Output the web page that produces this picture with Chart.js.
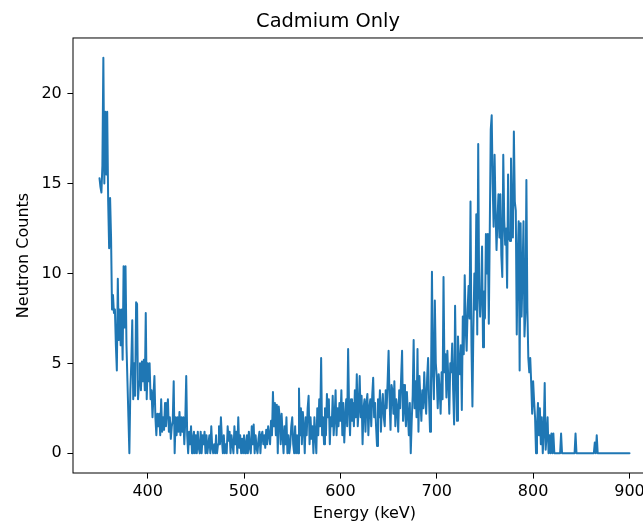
<!DOCTYPE html>
<html>
<head>
<meta charset="utf-8">
<title>Cadmium Only</title>
<script src="https://cdn.jsdelivr.net/npm/chart.js@4.4.0/dist/chart.umd.min.js"></script>
<style>
html, body { margin: 0; padding: 0; background: #fff; overflow: hidden; }
#wrap { width: 643px; height: 525px; overflow: hidden; }
</style>
</head>
<body>
<div id="wrap"><canvas id="chart" width="700" height="525"></canvas></div>
<script>
// データここから
const startEnergy = 350; // keV, 1 keV step
const counts = [
    15.3, 14.8, 14.5, 16, 22, 15, 19, 15.5, 19, 14, // 350
    11.4, 14.2, 12, 8, 8.8, 7.8, 8, 6, 4.6, 9.7, // 360
    6.3, 8, 6, 8, 5.2, 10.4, 7, 10.4, 6, 4, // 370
    2, 0, 3.5, 5, 7.4, 3, 5, 3.2, 8.4, 8.3, // 380
    3, 4, 5, 3.5, 5.1, 4, 5.2, 3.5, 7.8, 3, // 390
    5, 4, 5, 3, 3.5, 2, 3.2, 4.3, 2, 1, // 400
    2.2, 1.5, 2.2, 1, 3, 1.2, 2, 1.3, 2.8, 1.5, // 410
    2.3, 3, 1.2, 2, 0.8, 1.5, 1.8, 4, 0, 2, // 420
    1, 2, 1.2, 2.3, 1, 2, 1.2, 2, 0.5, 1.8, // 430
    4.3, 1, 0, 1.2, 0.5, 1.5, 0, 0.8, 1.2, 0, // 440
    1, 0, 1.2, 0.3, 0, 1.2, 0, 1, 0.5, 1.2, // 450
    0, 1, 0, 0.5, 1, 0, 1.5, 0.3, 0, 0.5, // 460
    0, 1, 0, 0.5, 1.5, 0.5, 2, 0.8, 0, 1, // 470
    0, 0.5, 0, 1.5, 0.7, 1.2, 0, 1, 0.5, 0, // 480
    1.5, 0.5, 1.2, 0, 2, 0.3, 1, 0, 0.8, 0, // 490
    1, 0, 0.5, 1, 0, 1.2, 0.3, 0, 1.5, 0.5, // 500
    1.6, 0, 1, 0.3, 0, 0.8, 1.2, 0, 1, 1.2, // 510
    0.5, 1, 0.3, 1.3, 0.5, 1.5, 1, 0.5, 1.8, 1, // 520
    3.4, 1.5, 2.8, 1, 2.7, 0, 2.6, 2, 0.5, 2.2, // 530
    1, 0, 1.5, 0.5, 2, 0, 1, 0, 0.5, 1.5, // 540
    2, 0.5, 0, 1.5, 0, 1, 0, 3.6, 1, 2.5, // 550
    0.5, 2.3, 1.5, 0, 2, 1, 2.5, 3.2, 0.5, 2, // 560
    0.8, 1.5, 0, 2, 1, 0, 2.5, 1, 3, 1.5, // 570
    5.3, 1, 2, 0.5, 2.5, 1, 3.3, 2, 3, 0.5, // 580
    2, 1.5, 3.2, 1, 2, 3.5, 1, 2.5, 1.5, 2.8, // 590
    1.8, 3.5, 1, 2.8, 0.6, 2, 3, 1.5, 5.8, 2.5, // 600
    1, 3, 1.8, 2.8, 1.5, 3.5, 2, 4.4, 1.5, 2.5, // 610
    4.3, 2, 3.2, 0.5, 2.5, 3, 1.2, 2.8, 3.3, 1, // 620
    2.5, 3, 1.5, 3.2, 4.2, 2, 2.8, 1.5, 0.4, 3, // 630
    2, 3.5, 1.2, 2.5, 3.3, 2, 1.5, 3.5, 2.5, 4, // 640
    5.7, 3, 1.3, 3.8, 3.5, 2.2, 4, 1.5, 3, 2.5, // 650
    1.2, 3.5, 2.5, 4.2, 5.7, 1.8, 3.8, 2.5, 1.5, 3.4, // 660
    2.2, 1, 2.8, 0, 1.8, 3.2, 6.3, 2.5, 4, 2, // 670
    5.8, 1.2, 4.3, 3, 1.8, 3.5, 2.5, 4.5, 3, 2.2, // 680
    4.2, 5.3, 3, 1.2, 3.8, 10.1, 4.5, 3, 8.5, 5, // 690
    4.2, 2.5, 4.4, 3.5, 2.2, 4.5, 3, 9.8, 4.5, 5.5, // 700
    3.1, 5.7, 4, 2.2, 5, 4.5, 6.1, 3.5, 1.6, 8.2, // 710
    4.5, 1.8, 6.5, 5, 4.4, 6, 2.4, 7.6, 5.5, 9.9, // 720
    7, 5.7, 8, 9.3, 7.5, 14, 6, 2.6, 7, 10, // 730
    8, 13.3, 6.6, 17.2, 9, 7.6, 8.9, 11.5, 5.9, 9, // 740
    7.5, 12.2, 10, 12.2, 7.2, 12.4, 18, 18.8, 15, 12.6, // 750
    16.6, 13.5, 11.3, 13, 14.4, 12, 14.4, 11, 9.8, 16.6, // 760
    13, 11.6, 12.5, 9.2, 15.5, 12, 11.8, 16.4, 13, 12, // 770
    17.9, 14, 13.5, 6.6, 11, 12.9, 4.6, 12.8, 7.6, 10, // 780
    12.9, 6.5, 7.8, 15.2, 8.1, 5.3, 4.5, 5.3, 3.9, 2.2, // 790
    4, 2.9, 2, 0, 1.5, 2.8, 1, 2.5, 0.5, 2, // 800
    0, 1.2, 3.9, 0.2, 1, 2, 0, 1, 0, 1.1, // 810
    0, 1.1, 0, 0, 0, 0, 0, 0, 0, 1.1, // 820
    0, 0, 0, 0, 0, 0, 0, 0, 0, 0, // 830
    0, 0, 0, 0, 1.1, 0, 0, 0, 0, 0, // 840
    0, 0, 0, 0, 0, 0, 0, 0, 0, 0, // 850
    0, 0, 0, 0, 0.6, 0, 1, 0, 0, 0, // 860
    0, 0, 0, 0, 0, 0, 0, 0, 0, 0, // 870
    0, 0, 0, 0, 0, 0, 0, 0, 0, 0, // 880
    0, 0, 0, 0, 0, 0, 0, 0, 0, 0, // 890
    0 // 900
];
const xTicks = [400, 500, 600, 700, 800, 900];
const yTicks = [0, 5, 10, 15, 20];
// データここまで

const energies = counts.map((c, i) => startEnergy + i);
const points = energies.map((e, i) => ({ x: e, y: counts[i] }));

// 枠線(matplotlibのspine)
const framePlugin = {
    id: "frame",
    afterDatasetsDraw(chart) {
        const { ctx, chartArea } = chart;
        ctx.save();
        ctx.strokeStyle = "#000";
        ctx.lineWidth = 1;
        ctx.strokeRect(chartArea.left, chartArea.top,
            chartArea.right - chartArea.left, chartArea.bottom - chartArea.top);
        ctx.restore();
    },
};

const font = { family: "'DejaVu Sans', sans-serif", size: 16 };

new Chart(document.getElementById("chart"), {
    type: "line",
    data: {
        datasets: [
            {
                data: points,
                borderColor: "#1f77b4",
                borderWidth: 2,
                borderJoinStyle: "round",
                borderCapStyle: "round",
                pointRadius: 0,
                tension: 0,
                fill: false,
            },
        ],
    },
    options: {
        responsive: false,
        animation: false,
        layout: { padding: { left: 0, right: 44, top: 0, bottom: 0 } },
        plugins: {
            legend: { display: false },
            tooltip: { enabled: false },
            title: {
                display: true,
                text: "Cadmium Only",
                color: "#000",
                font: { family: font.family, size: 19.4, weight: "normal" },
                padding: { top: 10, bottom: 4.7 },
            },
        },
        scales: {
            x: {
                type: "linear",
                min: 322.5,
                max: 927.5,
                afterBuildTicks(scale) {
                    scale.ticks = xTicks.map((v) => ({ value: v }));
                },
                afterFit(scale) {
                    scale.height = 52;
                },
                ticks: {
                    color: "#000",
                    font: font,
                    padding: 4,
                    maxRotation: 0,
                    callback: (v) => String(v),
                },
                grid: {
                    drawOnChartArea: false,
                    drawTicks: true,
                    tickLength: 5.6,
                    color: "#000",
                    lineWidth: 1,
                },
                border: { display: false },
                title: {
                    display: true,
                    text: "Energy (keV)",
                    color: "#000",
                    font: font,
                    padding: { top: 0, bottom: 1.5 },
                },
            },
            y: {
                type: "linear",
                min: -1.1,
                max: 23.1,
                afterBuildTicks(scale) {
                    scale.ticks = yTicks.map((v) => ({ value: v }));
                },
                afterFit(scale) {
                    scale.width = 73;
                },
                ticks: {
                    color: "#000",
                    font: font,
                    padding: 5.6,
                    callback: (v) => String(v),
                },
                grid: {
                    drawOnChartArea: false,
                    drawTicks: true,
                    tickLength: 5.6,
                    color: "#000",
                    lineWidth: 1,
                },
                border: { display: false },
                title: {
                    display: true,
                    text: "Neutron Counts",
                    color: "#000",
                    font: font,
                    padding: { top: 14, bottom: 0 },
                },
            },
        },
    },
    plugins: [framePlugin],
});
</script>
</body>
</html>
